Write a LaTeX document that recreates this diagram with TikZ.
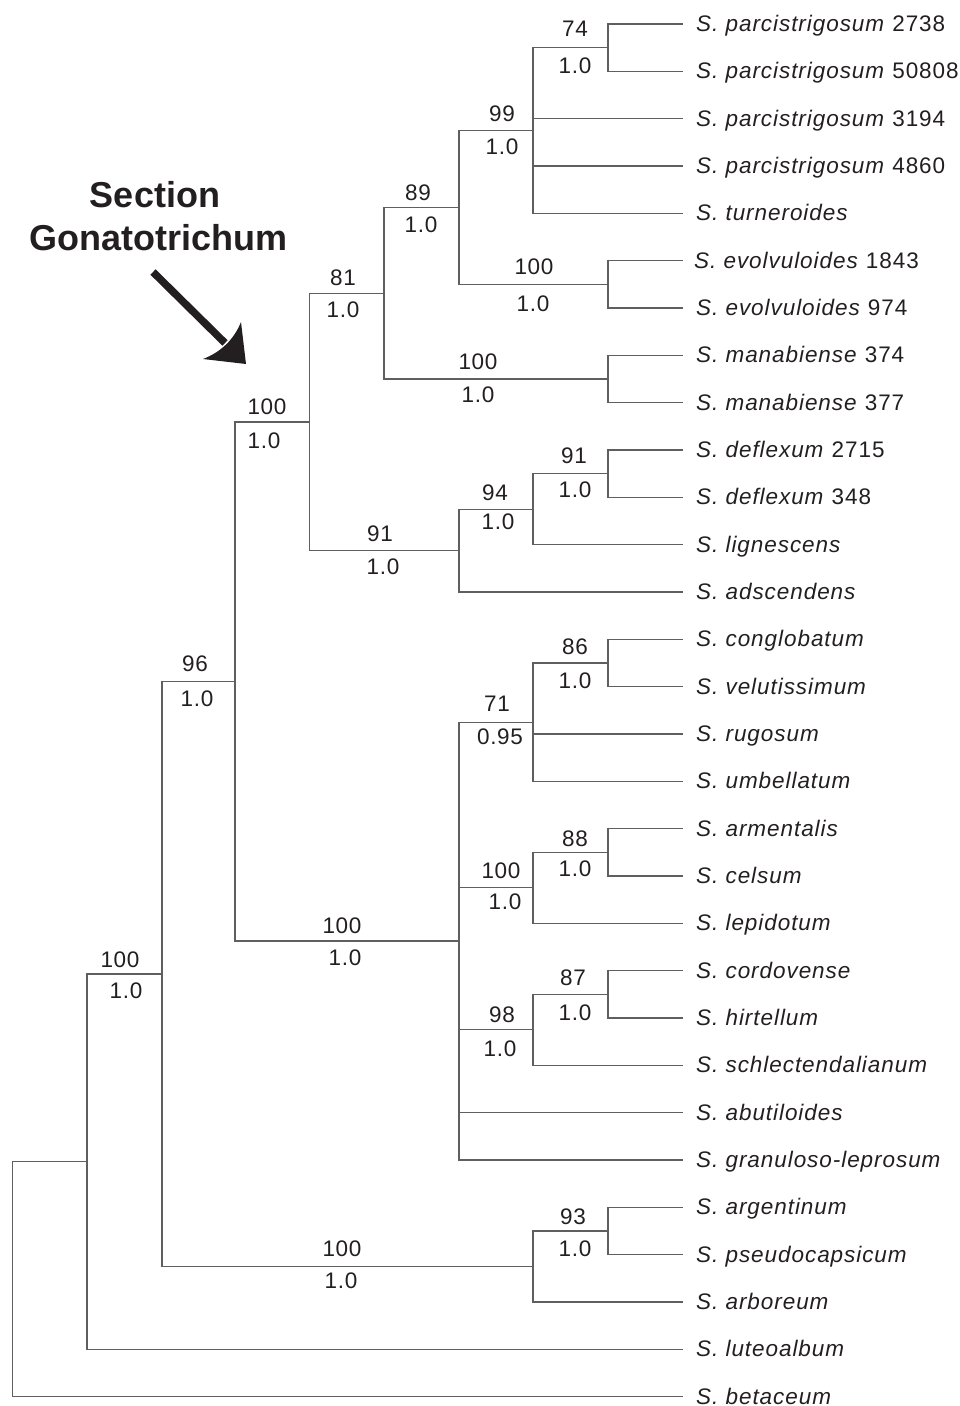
\documentclass[tikz,border=0pt]{standalone}
\usepackage{fontspec}
\setmainfont{Liberation Sans}
\newfontfamily\lblfont[LetterSpace=4.2]{Liberation Sans}
\newfontfamily\supfont[LetterSpace=3]{Liberation Sans}
\definecolor{branch}{RGB}{95,95,95}
\definecolor{ink}{RGB}{35,31,32}
\newcommand{\taxon}[2]{\textit{S.~#1}\ #2}
\tikzset{
  br/.style={draw=branch, line width=1.3pt},
  leaflbl/.style={anchor=base west, inner sep=0pt, text=ink, font=\lblfont\fontsize{22.5}{26}\selectfont},
  sup/.style={inner sep=0pt, text=ink, font=\supfont\fontsize{22.5}{26}\selectfont},
  headlbl/.style={inner sep=0pt, text=ink, font=\fontsize{36}{40}\selectfont\bfseries},
}
\begin{document}
\begin{tikzpicture}[x=1pt,y=-1pt]
\useasboundingbox (0,0) rectangle (959,1406);
% leaf tips
\foreach \i in {0,...,29}{
  \coordinate (t\i) at (683,{24+47.33*\i});
}
% leaf labels
\node[leaflbl] (n0)  at (696,{24+47.33*0+7.5})  {\taxon{parcistrigosum}{2738}};
\node[leaflbl] (n1)  at (696,{24+47.33*1+7.5})  {\taxon{parcistrigosum}{50808}};
\node[leaflbl] (n2)  at (696,{24+47.33*2+7.5})  {\taxon{parcistrigosum}{3194}};
\node[leaflbl] (n3)  at (696,{24+47.33*3+7.5})  {\taxon{parcistrigosum}{4860}};
\node[leaflbl] (n4)  at (696,{24+47.33*4+7.5})  {\taxon{turneroides}{}};
\node[leaflbl] (n5)  at (694,{24+47.33*5+7.5})  {\taxon{evolvuloides}{1843}};
\node[leaflbl] (n6)  at (696,{24+47.33*6+7.5})  {\taxon{evolvuloides}{974}};
\node[leaflbl] (n7)  at (696,{24+47.33*7+7.5})  {\taxon{manabiense}{374}};
\node[leaflbl] (n8)  at (696,{24+47.33*8+7.5})  {\taxon{manabiense}{377}};
\node[leaflbl] (n9)  at (696,{24+47.33*9+7.5})  {\taxon{deflexum}{2715}};
\node[leaflbl] (n10) at (696,{24+47.33*10+7.5}) {\taxon{deflexum}{348}};
\node[leaflbl] (n11) at (696,{24+47.33*11+7.5}) {\taxon{lignescens}{}};
\node[leaflbl] (n12) at (696,{24+47.33*12+7.5}) {\taxon{adscendens}{}};
\node[leaflbl] (n13) at (696,{24+47.33*13+7.5}) {\taxon{conglobatum}{}};
\node[leaflbl] (n14) at (696,{24+47.33*14+7.5}) {\taxon{velutissimum}{}};
\node[leaflbl] (n15) at (696,{24+47.33*15+7.5}) {\taxon{rugosum}{}};
\node[leaflbl] (n16) at (696,{24+47.33*16+7.5}) {\taxon{umbellatum}{}};
\node[leaflbl] (n17) at (696,{24+47.33*17+7.5}) {\taxon{armentalis}{}};
\node[leaflbl] (n18) at (696,{24+47.33*18+7.5}) {\taxon{celsum}{}};
\node[leaflbl] (n19) at (696,{24+47.33*19+7.5}) {\taxon{lepidotum}{}};
\node[leaflbl] (n20) at (696,{24+47.33*20+7.5}) {\taxon{cordovense}{}};
\node[leaflbl] (n21) at (696,{24+47.33*21+7.5}) {\taxon{hirtellum}{}};
\node[leaflbl] (n22) at (696,{24+47.33*22+7.5}) {\taxon{schlectendalianum}{}};
\node[leaflbl] (n23) at (696,{24+47.33*23+7.5}) {\taxon{abutiloides}{}};
\node[leaflbl] (n24) at (696,{24+47.33*24+7.5}) {\taxon{granuloso-leprosum}{}};
\node[leaflbl] (n25) at (696,{24+47.33*25+7.5}) {\taxon{argentinum}{}};
\node[leaflbl] (n26) at (696,{24+47.33*26+7.5}) {\taxon{pseudocapsicum}{}};
\node[leaflbl] (n27) at (696,{24+47.33*27+7.5}) {\taxon{arboreum}{}};
\node[leaflbl] (n28) at (696,{24+47.33*28+7.5}) {\taxon{luteoalbum}{}};
\node[leaflbl] (n29) at (696,{24+47.33*29+7.5}) {\taxon{betaceum}{}};
% internal nodes
\coordinate (A) at (608,47.7);
\coordinate (B) at (533,130.5);
\coordinate (C) at (608,284.3);
\coordinate (D) at (459,207.4);
\coordinate (E) at (608,379.0);
\coordinate (F) at (384,293.2);
\coordinate (G) at (608,473.7);
\coordinate (H) at (533,509.2);
\coordinate (I) at (459,550.6);
\coordinate (J) at (309.5,421.9);
\coordinate (K) at (608,663.0);
\coordinate (L) at (533,722.2);
\coordinate (M) at (608,852.3);
\coordinate (N) at (533,887.8);
\coordinate (O) at (608,994.3);
\coordinate (P) at (533,1029.8);
\coordinate (Q) at (459,941.1);
\coordinate (R) at (235,681.5);
\coordinate (S) at (608,1231.0);
\coordinate (T) at (533,1266.5);
\coordinate (U) at (162,974.0);
\coordinate (V) at (87,1161.7);
\coordinate (W) at (12.3,1279.2);
% branches
\draw[br] (A) |- (t0) (A) |- (t1);
\draw[br] (B) |- (A) (B) |- (t2) (B) |- (t3) (B) |- (t4);
\draw[br] (C) |- (t5) (C) |- (t6);
\draw[br] (D) |- (B) (D) |- (C);
\draw[br] (E) |- (t7) (E) |- (t8);
\draw[br] (F) |- (D) (F) |- (E);
\draw[br] (G) |- (t9) (G) |- (t10);
\draw[br] (H) |- (G) (H) |- (t11);
\draw[br] (I) |- (H) (I) |- (t12);
\draw[br] (J) |- (F) (J) |- (I);
\draw[br] (K) |- (t13) (K) |- (t14);
\draw[br] (L) |- (K) (L) |- (t15) (L) |- (t16);
\draw[br] (M) |- (t17) (M) |- (t18);
\draw[br] (N) |- (M) (N) |- (t19);
\draw[br] (O) |- (t20) (O) |- (t21);
\draw[br] (P) |- (O) (P) |- (t22);
\draw[br] (Q) |- (L) (Q) |- (N) (Q) |- (P) (Q) |- (t23) (Q) |- (t24);
\draw[br] (R) |- (J) (R) |- (Q);
\draw[br] (S) |- (t25) (S) |- (t26);
\draw[br] (T) |- (S) (T) |- (t27);
\draw[br] (U) |- (R) (U) |- (T);
\draw[br] (V) |- (U) (V) |- (t28);
\draw[br] (W) |- (V) (W) |- (t29);
% support values
\node[sup] (bA) at (575,29) {74};   \node[sup] (pA) at (575,66) {1.0};
\node[sup] (bB) at (502,114) {99};  \node[sup] (pB) at (502,147) {1.0};
\node[sup] (bD) at (418,193) {89};  \node[sup] (pD) at (421,225) {1.0};
\node[sup] (bC) at (534,267) {100}; \node[sup] (pC) at (533,304) {1.0};
\node[sup] (bF) at (343,278) {81};  \node[sup] (pF) at (343,310) {1.0};
\node[sup] (bE) at (478,362) {100}; \node[sup] (pE) at (478,395) {1.0};
\node[sup] (bJ) at (267,407) {100}; \node[sup] (pJ) at (264,441) {1.0};
\node[sup] (bG) at (574,456) {91};  \node[sup] (pG) at (575,490) {1.0};
\node[sup] (bH) at (495,493) {94};  \node[sup] (pH) at (498,522) {1.0};
\node[sup] (bI) at (380,534) {91};  \node[sup] (pI) at (383,567) {1.0};
\node[sup] (bR) at (195,664) {96};  \node[sup] (pR) at (197,699) {1.0};
\node[sup] (bK) at (575,647) {86};  \node[sup] (pK) at (575,681) {1.0};
\node[sup] (bL) at (497,704) {71};  \node[sup] (pL) at (500,737) {0.95};
\node[sup] (bM) at (575,839) {88};  \node[sup] (pM) at (575,869) {1.0};
\node[sup] (bN) at (501,871) {100}; \node[sup] (pN) at (505,902) {1.0};
\node[sup] (bQ) at (342,926) {100}; \node[sup] (pQ) at (345,958) {1.0};
\node[sup] (bU) at (120,960) {100}; \node[sup] (pU) at (126,991) {1.0};
\node[sup] (bO) at (573,978) {87};  \node[sup] (pO) at (575,1013) {1.0};
\node[sup] (bP) at (502,1015) {98}; \node[sup] (pP) at (500,1049) {1.0};
\node[sup] (bS) at (573,1217) {93}; \node[sup] (pS) at (575,1249) {1.0};
\node[sup] (bT) at (342,1249) {100};\node[sup] (pT) at (341,1281) {1.0};
% section label and arrow
\node[headlbl] (sec) at (155,195) {Section};
\node[headlbl] (gon) at (158.5,238) {Gonatotrichum};
\coordinate (arrS) at (153,272);
\coordinate (arrB) at (225,343);
\coordinate (arrT) at (246,364);
\coordinate (arrC1) at (203,359);
\coordinate (arrC2) at (241,322);
\draw[ink, line width=7.5pt] (arrS) -- (arrB);
\fill[ink] (arrT) -- (arrC1) .. controls (221,352) and (234,339.5) .. (arrC2) -- cycle;
\end{tikzpicture}
\end{document}
